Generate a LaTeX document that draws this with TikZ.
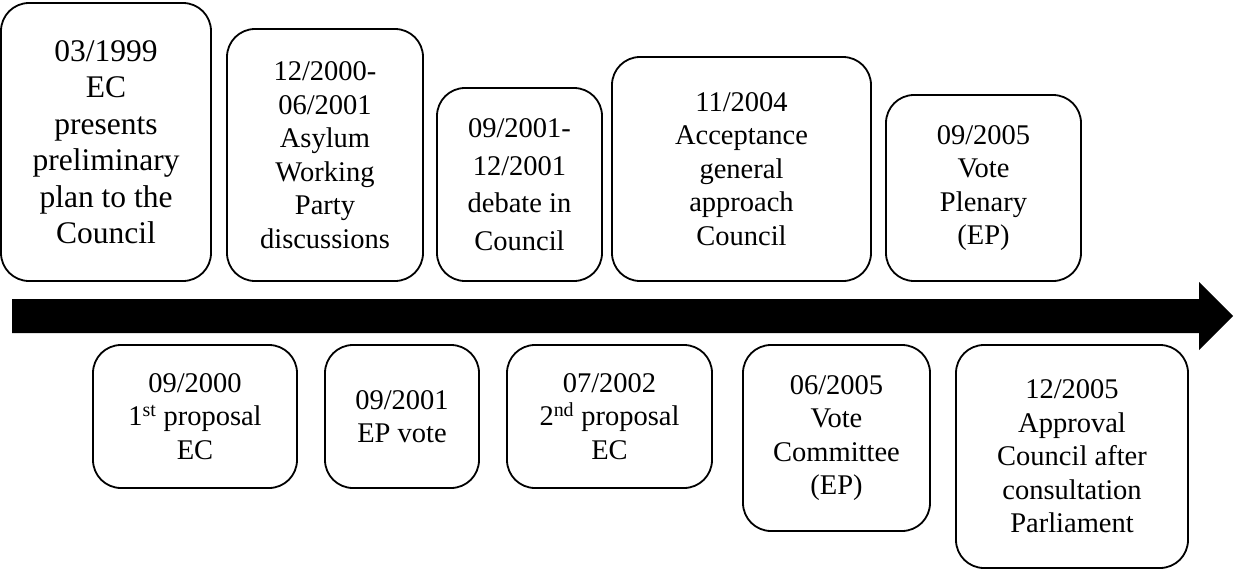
\documentclass[tikz,border=0pt]{standalone}
\usepackage{fontspec}
\setmainfont{Liberation Serif}
\begin{document}
\begin{tikzpicture}[x=1pt,y=-1pt,
  event/.style={draw=black, line width=1.8pt, rounded corners=28pt,
    align=center, inner sep=0pt, font=\fontsize{28.5}{33.5}\selectfont},
  bigevent/.style={event, font=\fontsize{31.5}{36.5}\selectfont},
  looseevent/.style={event, font=\fontsize{28.5}{37.5}\selectfont}]
\useasboundingbox (0,0) rectangle (1234,570);

% time line arrow
\fill[black] (12,299) -- (1199,299) -- (1199,282) -- (1233,316)
  -- (1199,350) -- (1199,333) -- (12,333) -- cycle;

% events above the time line
\node[bigevent, minimum width=210pt, minimum height=278pt] (e1) at (106,142)
  {03/1999\\EC\\presents\\preliminary\\plan to the\\Council};
\node[event, minimum width=196pt, minimum height=252pt] (e2) at (325,155)
  {12/2000-\\06/2001\\Asylum\\Working\\Party\\discussions};
\node[looseevent, minimum width=165pt, minimum height=193pt] (e3) at (519.5,184.5)
  {09/2001-\\12/2001\\debate in\\Council};
\node[event, minimum width=259pt, minimum height=224pt] (e4) at (741.5,169)
  {11/2004\\Acceptance\\general\\approach\\Council};
\node[event, minimum width=195pt, minimum height=186pt] (e5) at (983.5,188)
  {09/2005\\Vote\\Plenary\\(EP)};

% events below the time line
\node[event, minimum width=204pt, minimum height=143pt] (f1) at (195,416.5)
  {09/2000\\1\textsuperscript{st} proposal\\EC};
\node[event, minimum width=154pt, minimum height=143pt] (f2) at (402,416.5)
  {09/2001\\EP vote};
\node[event, minimum width=205pt, minimum height=143pt] (f3) at (609.5,416.5)
  {07/2002\\2\textsuperscript{nd} proposal\\EC};
\node[event, minimum width=187pt, minimum height=186pt] (f4) at (836.5,438)
  {06/2005\\Vote\\Committee\\(EP)};
\node[event, minimum width=232pt, minimum height=223pt] (f5) at (1072,456.5)
  {12/2005\\Approval\\Council after\\consultation\\Parliament};
\end{tikzpicture}
\end{document}
